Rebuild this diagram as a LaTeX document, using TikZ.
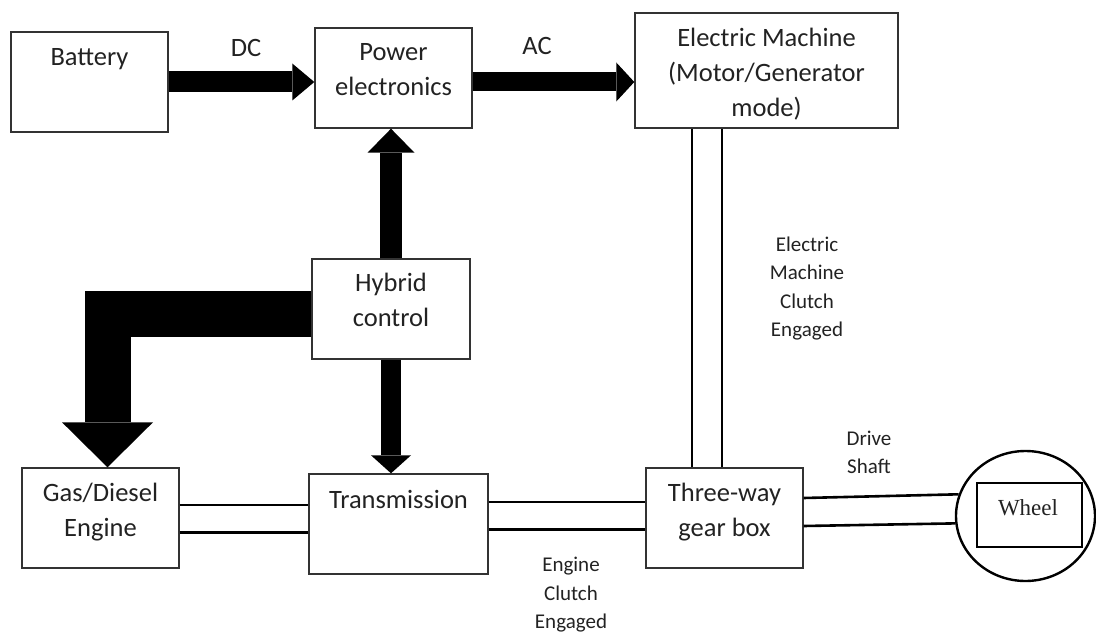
\documentclass[tikz,border=0pt]{standalone}
\usepackage{fontspec}
\setmainfont{Carlito}
\newfontfamily\wheelfont{Liberation Serif}
\usetikzlibrary{arrows.meta,calc,positioning,shapes.geometric}
\definecolor{boxGray}{HTML}{333333}
\definecolor{textGray}{HTML}{222222}
\tikzset{
  blk/.style={draw=boxGray,line width=1.4pt,inner sep=0pt},
  boxtext/.style={inner sep=0pt,align=center,text=textGray,font=\fontsize{26.5}{35}\selectfont},
  smalltext/.style={inner sep=0pt,align=center,text=textGray,font=\fontsize{21}{28.5}\selectfont},
  shaft/.style={line width=2.6pt},
}
\begin{document}
\begin{tikzpicture}[x=1pt,y=-1pt]
  \useasboundingbox (0,0) rectangle (1096,634);
  % blocks
  \node[blk,minimum width=157pt,minimum height=100pt] (bat) at (89.5,82) {};
  \node[blk,minimum width=157pt,minimum height=100pt] (pe) at (393.5,78) {};
  \node[blk,minimum width=263pt,minimum height=115pt] (em) at (766.5,70.5) {};
  \node[blk,minimum width=158pt,minimum height=100pt] (hc) at (391,309) {};
  \node[blk,minimum width=157pt,minimum height=100pt] (eng) at (100.5,518) {};
  \node[blk,minimum width=179pt,minimum height=100pt] (tr) at (398.5,524) {};
  \node[blk,minimum width=157pt,minimum height=100pt] (gb) at (724.5,518) {};
  \node[draw,ellipse,line width=2.4pt,inner sep=0pt,minimum width=139pt,minimum height=130pt] (wh) at (1025.5,516) {};
  \node[blk,draw=black,minimum width=105pt,minimum height=64pt] (whbox) at (1029.5,515) {};
  % block texts
  \node[boxtext,below=17pt of bat.north] (battxt) {Battery};
  \node[boxtext,below=16pt of pe.north] (petxt) {Power\\electronics};
  \node[boxtext,below=16pt of em.north] (emtxt) {Electric Machine\\(Motor/Generator\\mode)};
  \node[boxtext,below=15pt of hc.north] (hctxt) {Hybrid\\control};
  \node[boxtext,below=16pt of eng.north] (engtxt) {Gas/Diesel\\Engine};
  \node[boxtext,below=17pt of tr.north] (trtxt) {Transmission};
  \node[boxtext,below=16pt of gb.north] (gbtxt) {Three-way\\gear box};
  \node[font=\wheelfont\fontsize{23}{28}\selectfont,text=textGray] (whtxt) at (1028,508) {Wheel};
  % block arrows
  \draw[line width=21pt,-{Triangle[length=22pt,width=37pt,line width=0pt]}]
    (bat.east) -- (bat.east -| pe.west);
  \draw[line width=19pt,-{Triangle[length=18pt,width=39pt,line width=0pt]}]
    ([yshift=-4pt]pe.east) -- ([yshift=-4pt]pe.east -| em.west);
  \draw[line width=22pt,-{Triangle[length=24pt,width=47pt,line width=0pt]}]
    (hc.north) -- (hc.north |- pe.south);
  \draw[line width=20pt,-{Triangle[length=18pt,width=40pt,line width=0pt]}]
    (hc.south) -- (hc.south |- tr.north);
  \draw[line width=46pt,line join=miter,-{Triangle[length=45pt,width=91pt,line width=0pt]}]
    ([yshift=-5pt]hc.west) -| ([xshift=7pt]eng.north);
  \node[boxtext] (dc) at (246,48) {DC};
  \node[boxtext] (ac) at (537,46) {AC};
  % shafts
  \draw[shaft] ([yshift=13pt]eng.east) -- ([yshift=13pt]eng.east -| tr.west);
  \draw[shaft] ([yshift=-14.5pt]eng.east) -- ([yshift=-14.5pt]eng.east -| tr.west);
  \draw[shaft] ([yshift=16pt]gb.west -| tr.east) -- ([yshift=16pt]gb.west);
  \draw[shaft] ([yshift=-11.5pt]gb.west -| tr.east) -- ([yshift=-11.5pt]gb.west);
  \draw[shaft] ([xshift=-32.5pt]gb.north) -- ([xshift=-32.5pt]gb.north |- em.south);
  \draw[shaft] ([xshift=-2.5pt]gb.north) -- ([xshift=-2.5pt]gb.north |- em.south);
  \draw[shaft] ([yshift=20pt]gb.east) -- (wh.162);
  \draw[shaft] ([yshift=-8pt]gb.east) -- (wh.186);
  % shaft labels
  \node[smalltext] (emclutch) at (807,288.5) {Electric\\Machine\\Clutch\\Engaged};
  \node[smalltext] (engclutch) at (571,595) {Engine\\Clutch\\Engaged};
  \node[smalltext] (drive) at (869,452.5) {Drive\\Shaft};
\end{tikzpicture}
\end{document}
